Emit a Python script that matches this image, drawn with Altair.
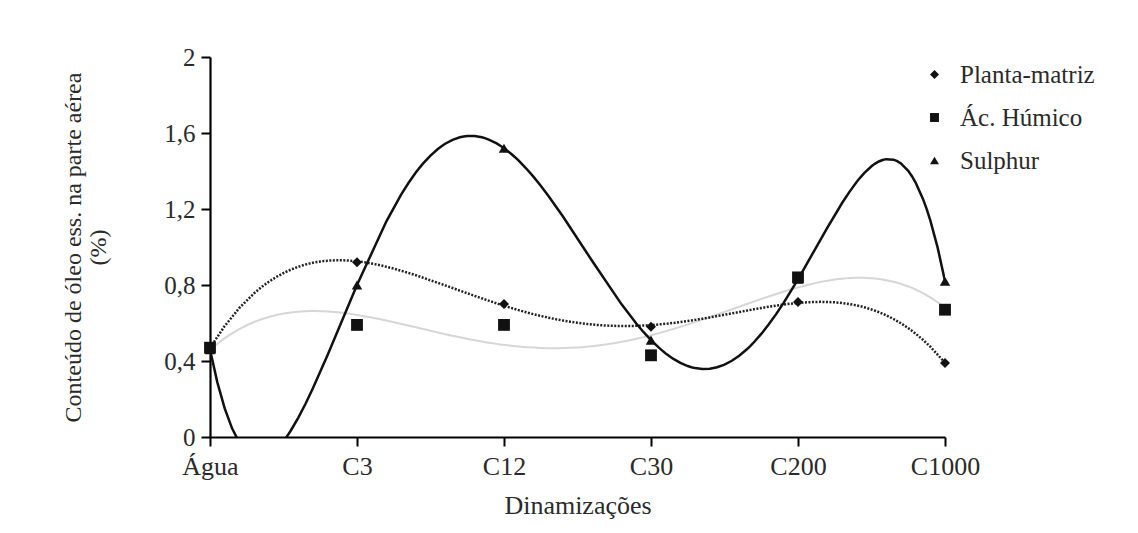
import altair as alt
import pandas as pd

categories = ["Água", "C3", "C12", "C30", "C200", "C1000"]
series_names = ["Planta-matriz", "Ác. Húmico", "Sulphur"]
planta = [0.47, 0.92, 0.70, 0.58, 0.71, 0.39]
humico = [0.47, 0.59, 0.59, 0.43, 0.84, 0.67]
sulphur = [0.46, 0.80, 1.52, 0.51, 0.83, 0.82]
y_ticks = [0, 0.4, 0.8, 1.2, 1.6, 2]

rows = []
for name, vals in zip(series_names, [planta, humico, sulphur]):
    for i, v in enumerate(vals):
        rows.append({"serie": name, "x": i, "y": v})
df = pd.DataFrame(rows)

FONT = "Liberation Serif"
TXT = "#2a2a2a"
label_expr = "[" + ",".join("'" + c + "'" for c in categories) + "][datum.value]"

x_enc = alt.X(
    "x:Q",
    scale=alt.Scale(domain=[0, len(categories) - 1], nice=False, zero=False),
    axis=alt.Axis(
        values=list(range(len(categories))),
        labelExpr=label_expr,
        title="Dinamizações",
        grid=False,
        tickSize=9,
        tickWidth=2,
        tickColor="black",
        domainColor="black",
        domainWidth=2.2,
        labelFont=FONT,
        labelFontSize=26,
        labelColor=TXT,
        labelPadding=7,
        labelFlush=False,
        titleFont=FONT,
        titleFontSize=26,
        titleFontWeight="normal",
        titleColor=TXT,
        titlePadding=13,
    ),
)
y_enc = alt.Y(
    "y:Q",
    scale=alt.Scale(domain=[0, 2], nice=False),
    axis=alt.Axis(
        values=y_ticks,
        labelExpr="replace(format(datum.value, '~g'), '.', ',')",
        title=["Conteúdo de óleo ess. na parte aérea", "(%)"],
        grid=False,
        tickSize=9,
        tickWidth=2,
        tickColor="black",
        domainColor="black",
        domainWidth=2.2,
        labelFont=FONT,
        labelFontSize=25,
        labelColor=TXT,
        labelPadding=6,
        labelFlush=False,
        titleFont=FONT,
        titleFontSize=24,
        titleLineHeight=25,
        titleFontWeight="normal",
        titleColor=TXT,
        titlePadding=53,
    ),
)

base = alt.Chart(df)

def trend(name, order, color, width, dash=None):
    kw = dict(color=color, strokeWidth=width, clip=True)
    if dash:
        kw["strokeDash"] = dash
    return (
        base.transform_filter(alt.datum.serie == name)
        .transform_regression("x", "y", method="poly", order=order,
                              extent=[0, len(categories) - 1])
        .mark_line(**kw)
        .encode(x=x_enc, y=y_enc)
    )

l_hum = trend("Ác. Húmico", 4, "#d6d6d6", 2)
l_pla = trend("Planta-matriz", 4, "#222", 2.5, [2, 1.5])
l_sul = trend("Sulphur", 5, "#111", 2.5)

shape_enc = alt.Shape(
    "serie:N",
    scale=alt.Scale(domain=series_names, range=["diamond", "square", "triangle-up"]),
    legend=alt.Legend(
        title=None,
        orient="none",
        legendX=712,
        legendY=5,
        labelFont=FONT,
        labelFontSize=25,
        labelColor=TXT,
        symbolFillColor="#111",
        symbolStrokeColor="#111",
        symbolSize=80,
        rowPadding=17,
        labelOffset=13,
    ),
)

def pts(name, size):
    return (
        base.transform_filter(alt.datum.serie == name)
        .mark_point(filled=True, opacity=1, color="#111", size=size)
        .encode(x=x_enc, y=y_enc, shape=shape_enc)
    )

p_sul = pts("Sulphur", 110)
p_pla = pts("Planta-matriz", 100)
p_hum = pts("Ác. Húmico", 140)

chart = (
    alt.layer(l_hum, l_pla, l_sul, p_sul, p_pla, p_hum)
    .properties(
        width=735,
        height=380,
        autosize=alt.AutoSizeParams(type="none"),
        padding={"left": 202, "top": 49, "right": 185, "bottom": 88},
        background="white",
    )
    .configure_view(stroke=None)
)

chart.save("out.html", embed_options={"renderer": "svg", "actions": False})
